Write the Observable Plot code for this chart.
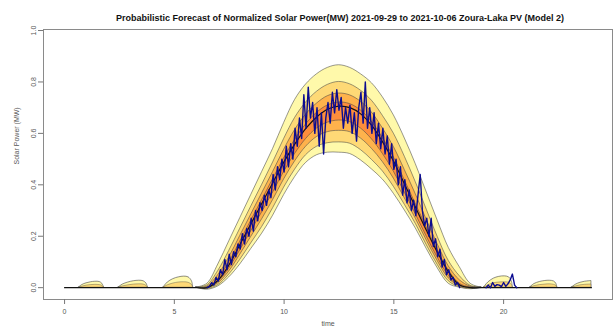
<!DOCTYPE html>
<html><head><meta charset="utf-8">
<script src="https://cdn.jsdelivr.net/npm/d3@7"></script>
<script src="https://cdn.jsdelivr.net/npm/@observablehq/plot@0.6"></script>
<style>body{margin:0;background:#fff;overflow:hidden}</style>
</head><body><div id="chart"></div>
<script>
const titleText = "Probabilistic Forecast of Normalized Solar Power(MW) 2021-09-29 to 2021-10-06 Zoura-Laka PV (Model 2)";
const xLabel = "time";
const yLabel = "Solar Power (MW)";
const xTicks = [0, 5, 10, 15, 20];
const yTicks = [0, 0.2, 0.4, 0.6, 0.8, 1.0];

// daytime quantiles (hours 6..19 every 0.5 h)
const dayHours = [6,6.5,7,7.5,8,8.5,9,9.5,10,10.5,11,11.5,12,12.5,13,13.5,14,14.5,15,15.5,16,16.5,17,17.5,18,18.5,19];
const q50 = [0,0,0.03,0.09,0.17,0.25,0.33,0.41,0.49,0.56,0.62,0.665,0.695,0.706,0.70,0.675,0.63,0.565,0.49,0.40,0.31,0.22,0.135,0.06,0.01,0,0];
const q95 = [0,0.015,0.09,0.18,0.27,0.36,0.45,0.54,0.64,0.73,0.79,0.83,0.855,0.865,0.855,0.83,0.795,0.74,0.67,0.58,0.48,0.37,0.26,0.155,0.08,0.015,0];
const q90 = [0,0.009,0.065,0.143,0.229,0.315,0.40,0.487,0.578,0.66,0.72,0.762,0.789,0.80,0.791,0.766,0.727,0.668,0.599,0.509,0.41,0.303,0.197,0.104,0.045,0.007,0];
const q75 = [0,0.004,0.049,0.118,0.201,0.284,0.367,0.45,0.536,0.613,0.673,0.716,0.745,0.755,0.748,0.723,0.681,0.619,0.547,0.457,0.363,0.263,0.168,0.083,0.029,0.004,0];
const q60 = [0,0.001,0.035,0.098,0.179,0.26,0.341,0.422,0.503,0.575,0.635,0.68,0.709,0.72,0.714,0.689,0.645,0.581,0.507,0.417,0.325,0.233,0.144,0.067,0.015,0.001,0];
const q40 = [0,0,0.022,0.075,0.145,0.219,0.293,0.37,0.45,0.52,0.578,0.619,0.642,0.65,0.644,0.619,0.577,0.52,0.451,0.369,0.285,0.198,0.116,0.046,0.007,0,0];
const q25 = [0,-0.002,0.017,0.063,0.128,0.197,0.266,0.341,0.421,0.491,0.548,0.586,0.605,0.61,0.605,0.58,0.54,0.488,0.424,0.347,0.268,0.183,0.103,0.036,0.005,-0.002,0];
const q10 = [0,-0.005,0.01,0.051,0.108,0.172,0.236,0.309,0.389,0.459,0.515,0.548,0.562,0.565,0.56,0.535,0.497,0.452,0.392,0.322,0.248,0.165,0.088,0.025,0.002,-0.004,0];
const q05 = [0,-0.008,0.005,0.04,0.09,0.15,0.21,0.28,0.36,0.43,0.485,0.515,0.525,0.525,0.52,0.495,0.46,0.42,0.365,0.30,0.23,0.15,0.075,0.015,0,-0.006,0];

// night-time upper humps
const humpHours = [0.65,0.8,1.0,1.2,1.4,1.6,1.72,1.8, 2.45,2.65,2.9,3.15,3.4,3.6,3.73,3.8, 4.5,4.7,4.95,5.2,5.45,5.65,5.8,5.86, 19.1,19.3,19.55,19.8,20.05,20.25,20.37,20.42, 21.2,21.4,21.65,21.9,22.1,22.3,22.4,22.45, 23.1,23.3,23.5,23.7,23.9,24.0];
const humpSeg = [1,1,1,1,1,1,1,1, 2,2,2,2,2,2,2,2, 3,3,3,3,3,3,3,3, 4,4,4,4,4,4,4,4, 5,5,5,5,5,5,5,5, 6,6,6,6,6,6];
const humpUpper = [0,0.01,0.017,0.021,0.023,0.022,0.015,0, 0,0.012,0.02,0.025,0.027,0.025,0.016,0, 0,0.02,0.033,0.04,0.043,0.04,0.025,0, 0,0.02,0.035,0.042,0.044,0.04,0.025,0, 0,0.014,0.022,0.026,0.027,0.024,0.015,0, 0,0.012,0.019,0.023,0.025,0.026];
const humpInner = [0,0.004,0.008,0.01,0.011,0.01,0.007,0, 0,0.005,0.009,0.012,0.013,0.012,0.007,0, 0,0.009,0.016,0.02,0.021,0.019,0.011,0, 0,0.009,0.017,0.02,0.021,0.019,0.011,0, 0,0.006,0.01,0.012,0.013,0.011,0.007,0, 0,0.005,0.009,0.011,0.012,0.012];

// observed power
const obsStart = 6.5, obsStep = 0.1;
const obsValues = [0,0.005,0.02,0.01,0.04,0.025,0.07,0.05,0.11,0.07,0.13,0.09,0.14,0.12,0.17,0.15,0.21,0.17,0.23,0.20,0.27,0.22,0.30,0.26,0.33,0.30,0.36,0.32,0.38,0.35,0.44,0.38,0.47,0.42,0.50,0.45,0.55,0.47,0.56,0.50,0.62,0.55,0.66,0.58,0.75,0.62,0.78,0.66,0.72,0.60,0.70,0.55,0.68,0.52,0.66,0.72,0.64,0.76,0.68,0.77,0.69,0.74,0.62,0.70,0.64,0.71,0.60,0.68,0.57,0.70,0.76,0.64,0.80,0.62,0.70,0.60,0.68,0.56,0.64,0.54,0.62,0.52,0.59,0.48,0.56,0.46,0.50,0.40,0.47,0.36,0.42,0.33,0.38,0.30,0.34,0.28,0.36,0.44,0.30,0.24,0.27,0.20,0.27,0.16,0.19,0.12,0.15,0.08,0.11,0.05,0.07,0.03,0.04,0.01,0.02,0];
const eveHours = [19.2,19.3,19.4,19.5,19.6,19.7,19.8,19.9,20.0,20.1,20.2,20.3,20.4,20.5,20.6];
const eveValues = [0,0.01,0,0.02,0.005,0.012,0.01,0.004,0.02,0.005,0.015,0.03,0.053,0.01,0];

const day = dayHours.map((t,i)=>({t, q05:q05[i], q10:q10[i], q25:q25[i], q40:q40[i], q50:q50[i], q60:q60[i], q75:q75[i], q90:q90[i], q95:q95[i]}));
const humps = humpHours.map((t,i)=>({t, seg:humpSeg[i], up:humpUpper[i], inner:humpInner[i]}));
const medLine = [{t:0,v:0}, ...day.map(d=>({t:d.t, v:d.q50})), {t:24,v:0}];
const obs = [
  ...obsValues.map((v,i)=>({t: obsStart + i*obsStep, v, seg:1})),
  ...eveHours.map((t,i)=>({t, v:eveValues[i], seg:2}))
];

const edge = "#444";
const bands = [
  ["q05","q95","#FFF9AA"],
  ["q10","q90","#FED976"],
  ["q25","q75","#FEB24C"],
  ["q40","q60","#FD8D3C"]
];

const marks = [];
for (const [lo,hi,col] of bands) {
  marks.push(Plot.areaY(day, {x:"t", y1:lo, y2:hi, fill:col, stroke:edge, strokeWidth:0.55, curve:"catmull-rom"}));
}
marks.push(Plot.areaY(humps, {x:"t", y1:0, y2:"up", z:"seg", fill:"#FFF9AA", stroke:edge, strokeWidth:0.6, curve:"catmull-rom"}));
marks.push(Plot.areaY(humps, {x:"t", y1:0, y2:"inner", z:"seg", fill:"#FED976", stroke:edge, strokeWidth:0.4, curve:"catmull-rom"}));
marks.push(Plot.line(medLine, {x:"t", y:"v", stroke:"#111", strokeWidth:1.2, curve:"catmull-rom"}));
marks.push(Plot.line(obs, {x:"t", y:"v", z:"seg", stroke:"#0c0c90", strokeWidth:1.4}));
marks.push(Plot.frame({stroke:"#8a8a8a", strokeWidth:1}));
marks.push(Plot.axisX({ticks:xTicks, tickSize:5, tickPadding:5, tickFormat:d=>String(d), stroke:"#777", color:"#555", fontSize:7, label:null}));
marks.push(Plot.axisY({ticks:yTicks, tickSize:5, tickPadding:3, tickFormat:d3.format(".1f"), tickRotate:-90, stroke:"#777", color:"#555", fontSize:7, label:null}));
marks.push(Plot.text([titleText], {frameAnchor:"top", dy:-15, dx:12, fontWeight:"bold", fontSize:9, fill:"#111"}));
marks.push(Plot.text([yLabel], {frameAnchor:"left", dx:-27, rotate:-90, fontSize:7, fill:"#555"}));
marks.push(Plot.text([xLabel], {frameAnchor:"bottom", dy:26, fontSize:7, fill:"#555"}));

const chart = Plot.plot({
  width:613, height:326,
  marginLeft:43, marginRight:1, marginTop:29, marginBottom:27,
  x:{domain:[-0.96,24.96]},
  y:{domain:[-0.046,1.004]},
  style:{fontFamily:"'Liberation Sans', Arial, sans-serif", fontSize:"7px", background:"#fff"},
  marks
});
document.getElementById("chart").appendChild(chart);
</script>
</body></html>
